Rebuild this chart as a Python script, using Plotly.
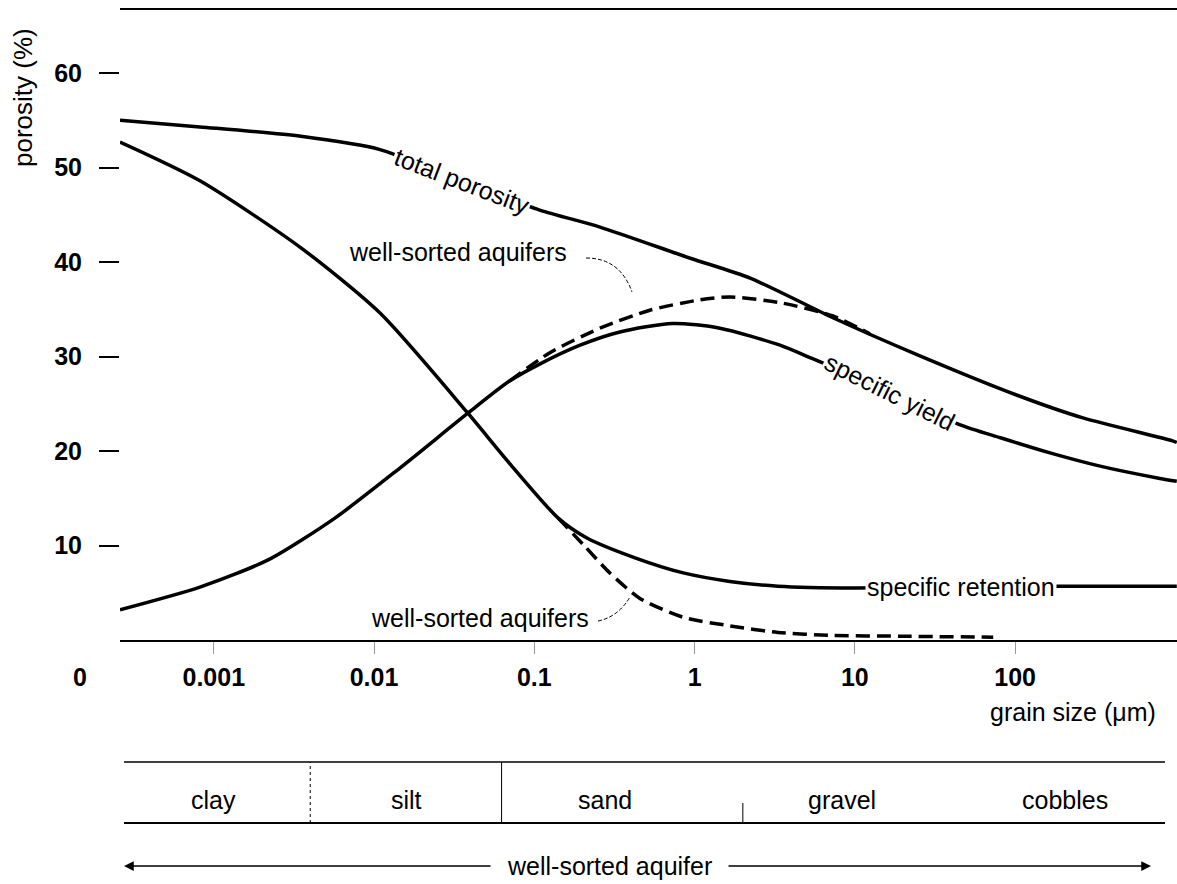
import plotly.graph_objects as go

W, H = 1177, 884
FONT = "Liberation Sans, Arial, sans-serif"

# grain size (µm) and porosity (%) along each curve
total_x = [0.00026, 0.00082, 0.0035, 0.0109, 0.03, 0.108, 0.257, 0.94, 2.22, 7.3, 24.4, 103, 265, 950, 1020]
total_y = [55.0, 54.3, 53.3, 51.9, 49.0, 45.5, 43.7, 40.4, 38.3, 34.1, 30.2, 25.9, 23.5, 21.1, 20.9]

yield_x = [0.00026, 0.00082, 0.0022, 0.0057, 0.0145, 0.0385, 0.070, 0.108, 0.193, 0.342,
           0.73, 1.44, 3.41, 5.4, 10, 19, 45, 81, 165, 339, 800, 1020]
yield_y = [3.2, 5.6, 8.5, 12.9, 18.2, 24.0, 27.4, 29.2, 31.2, 32.6,
           33.5, 33.0, 31.2, 29.8, 27.9, 25.8, 22.8, 21.4, 19.8, 18.4, 17.1, 16.8]

sorted_yield_x = [0.070, 0.125, 0.257, 0.526, 1.08, 1.66, 3.41, 7.3, 12.4]
sorted_yield_y = [27.4, 30.4, 33.0, 34.9, 36.0, 36.3, 35.7, 34.3, 32.4]

retention_x = [0.00026, 0.00082, 0.0035, 0.0109, 0.0385, 0.070, 0.141,
               0.213, 0.425, 0.85, 1.66, 3.31, 10, 191, 1020]
retention_y = [52.7, 48.6, 41.5, 34.6, 24.0, 18.7, 12.9,
               10.8, 8.7, 7.1, 6.2, 5.7, 5.5, 5.7, 5.7]

sorted_retention_x = [0.141, 0.207, 0.296, 0.456, 0.85, 1.66, 3.31, 7.0, 19.1, 73]
sorted_retention_y = [12.9, 9.9, 7.1, 4.4, 2.4, 1.5, 0.8, 0.5, 0.4, 0.3]

x_ticks = [0.001, 0.01, 0.1, 1, 10, 100]
x_tick_text = ["0.001", "0.01", "0.1", "1", "10", "100"]
y_ticks = [10, 20, 30, 40, 50, 60]

# grain-size class boundaries (µm) and class names
class_bounds = [0.004, 0.0625, 2.0]
class_names = ["clay", "silt", "sand", "gravel", "cobbles"]
class_label_px = [213, 406, 605, 842, 1065]


def paper(x, y):
    """pixel position -> paper coordinates"""
    return x / W, 1 - y / H


fig = go.Figure()

solid = dict(color="black", width=3.5)
dashed = dict(color="black", width=3.5, dash="14px,7px")

for xs, ys, ln in [
    (total_x, total_y, solid),
    (yield_x, yield_y, solid),
    (retention_x, retention_y, solid),
    (sorted_yield_x, sorted_yield_y, dashed),
    (sorted_retention_x, sorted_retention_y, dashed),
]:
    fig.add_trace(go.Scatter(x=xs, y=ys, mode="lines",
                             line=dict(shape="spline", smoothing=0.7, **ln),
                             hoverinfo="skip"))

annotations = []


def label(text, x, y, size=25, angle=0, bg=None, anchor="center", weight="normal"):
    px, py = paper(x, y)
    a = dict(text=text, x=px, y=py, xref="paper", yref="paper", showarrow=False,
             xanchor=anchor, yanchor="middle", textangle=angle,
             font=dict(family=FONT, size=size, color="black", weight=weight))
    if bg:
        a.update(bgcolor=bg, borderpad=1)
    annotations.append(a)


# curve labels
label("total porosity", 462, 181, angle=21, bg="white")
label("specific yield", 890, 392, angle=26.5, bg="white")
label("specific retention", 961, 587, bg="white")
label("well-sorted aquifers", 458, 252)
label("well-sorted aquifers", 480, 618)

# axis captions
label("porosity (%)", 23, 98, size=26, angle=-90)
label("0", 80, 677, weight="bold")
label("grain size (μm)", 1158, 712, anchor="right")

# grain class names
for name, xp in zip(class_names, class_label_px):
    label(name, xp, 800)

label("well-sorted aquifer", 609, 866)


def arrow(hx, hy, tx, ty):
    px, py = paper(hx, hy)
    annotations.append(dict(text=" ", x=px, y=py, xref="paper", yref="paper", showarrow=True,
                            ax=tx - hx, ay=ty - hy, arrowhead=2, arrowwidth=1.5,
                            arrowsize=1.3, arrowcolor="black", font=dict(size=1)))


arrow(124, 866, 492, 866)
arrow(1151, 866, 727, 866)

shapes = []


def leader_path(p0, c, p1):
    pts = [paper(*p) for p in (p0, c, p1)]
    (x0, y0), (cx, cy), (x1, y1) = pts
    return dict(type="path", xref="paper", yref="paper",
                path=f"M {x0:.5f},{y0:.5f} Q {cx:.5f},{cy:.5f} {x1:.5f},{y1:.5f}",
                line=dict(color="black", width=1, dash="4px,2px"))


# curved leaders from the "well-sorted aquifers" labels to the dashed curves
shapes.append(leader_path((586, 258), (620, 258), (632, 292)))
shapes.append(leader_path((598, 621), (618, 617), (630, 597)))

# grain class band
for yy, lw in [(762, 1.5), (823, 2)]:
    x0, y0 = paper(124, yy)
    x1, _ = paper(1165, yy)
    shapes.append(dict(type="line", xref="paper", yref="paper", x0=x0, x1=x1, y0=y0, y1=y0,
                       line=dict(color="black", width=lw)))
_, band_top = paper(0, 762)
_, band_bot = paper(0, 823)
_, band_mid = paper(0, 803)
for b, top, dash in zip(class_bounds, [band_top, band_top, band_mid], ["dot", "solid", "solid"]):
    shapes.append(dict(type="line", xref="x", yref="paper", x0=b, x1=b, y0=band_bot, y1=top,
                       line=dict(color="black", width=1, dash=dash)))

y_bottom = (H - 640) / H
y_top = (H - 10) / H

fig.update_layout(
    width=W, height=H,
    margin=dict(l=0, r=0, t=0, b=0),
    paper_bgcolor="white", plot_bgcolor="white",
    showlegend=False,
    annotations=annotations,
    shapes=shapes,
    xaxis=dict(
        type="log", range=[-3.585, 3.01], domain=[120 / W, 1],
        showline=True, linecolor="black", linewidth=2, mirror=True,
        ticks="outside", ticklen=12, tickwidth=1, tickcolor="#999",
        tickvals=x_ticks, ticktext=x_tick_text, ticklabelstandoff=2,
        tickfont=dict(family=FONT, size=25, color="black", weight="bold"),
        showgrid=False, zeroline=False,
    ),
    yaxis=dict(
        range=[0, 66.67], domain=[y_bottom, y_top],
        showline=False, ticks="outside", ticklen=20, tickwidth=1.5, tickcolor="black",
        tickvals=y_ticks, ticklabelstandoff=12,
        tickfont=dict(family=FONT, size=25, color="black", weight="bold"),
        showgrid=False, zeroline=False,
    ),
)

fig.write_html("out.html")
